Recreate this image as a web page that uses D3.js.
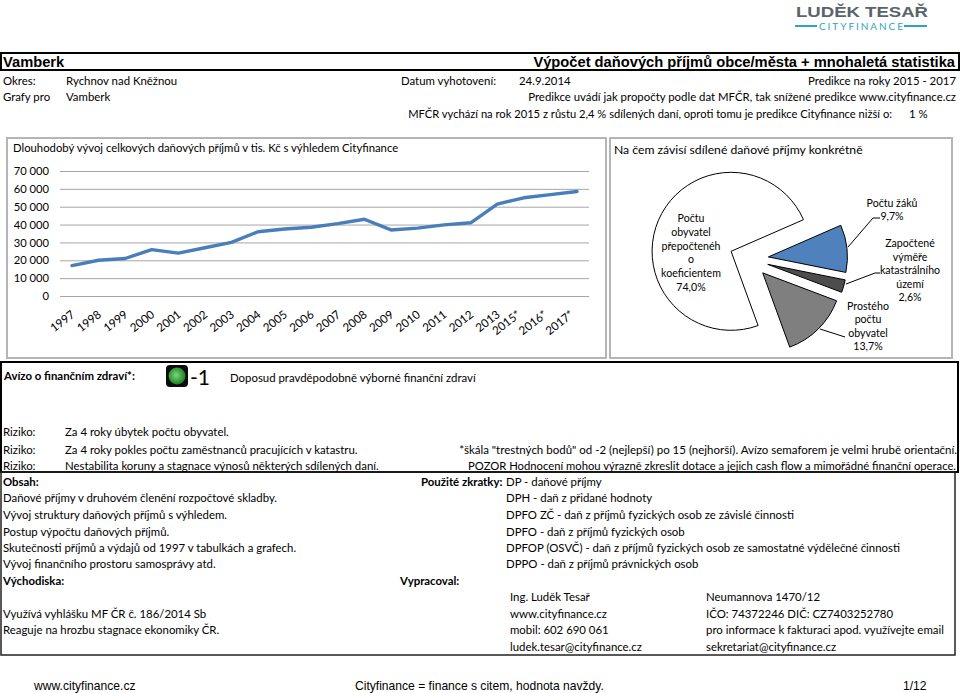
<!DOCTYPE html>
<html lang="cs">
<head>
<meta charset="utf-8">
<title>Vamberk</title>
<script src="https://cdn.jsdelivr.net/npm/d3@7/dist/d3.min.js"></script>
<style>
  html, body { margin: 0; padding: 0; background: #fff; }
  svg { display: block; }
  text { font-family: Lato, "Open Sans", sans-serif; font-size: 11.4px; fill: #000; }
  .arial { font-family: "Liberation Sans", Arial, sans-serif; }
  .gridline { stroke: #a6a6a6; stroke-width: 1; }
</style>
</head>
<body>
<svg id="page" width="960" height="693"></svg>
<script>
// line chart
var years = ["1997","1998","1999","2000","2001","2002","2003","2004","2005","2006","2007","2008","2009","2010","2011","2012","2013","2015*","2016*","2017*"];
var taxIncome = [17000,20000,21000,26000,24000,27000,30000,36000,37500,38500,40500,43000,37000,38000,39800,41000,51500,55000,56800,58500];
var yTicks = [0,10000,20000,30000,40000,50000,60000,70000];

// pie chart
var pieNames = [["Počtu","obyvatel","přepočtenéh","o","koeficientem"],["Počtu žáků"],["Započtené","výměře","katastrálního","území"],["Prostého","počtu","obyvatel"]];
var pieShares = [74.0,9.7,2.6,13.7];
var pieLabels = ["74,0%","9,7%","2,6%","13,7%"];
var pieColors = ["#ffffff","#4f81bd","#4d4d4d","#7f7f7f"];

// texts of the page, [x, y, text, anchor, bold, size]
var topRows = [
  [3,85,"Okres:"],[66,85,"Rychnov nad Kněžnou"],[401,85,"Datum vyhotovení:"],[519,85,"24.9.2014"],[956,85,"Predikce na roky 2015 - 2017","end"],
  [3,101,"Grafy pro"],[66,101,"Vamberk"],[956,101,"Predikce uvádí jak propočty podle dat MFČR, tak snížené predikce www.cityfinance.cz","end"],
  [892,118,"MFČR vychází na rok 2015 z růstu 2,4 % sdílených daní, oproti tomu je predikce Cityfinance nižší o:","end",false,11.17],[909,118,"1 %"]
];
var lowerRows = [
  [4,380,"Avízo o finančním zdraví*:",null,true],[230,382,"Doposud pravděpodobně výborné finanční zdraví"],
  [3,436,"Riziko:"],[65,436,"Za 4 roky úbytek počtu obyvatel."],
  [3,454,"Riziko:"],[65,454,"Za 4 roky pokles počtu zaměstnanců pracujících v katastru."],
  [957,454,"*škála \"trestných bodů\" od -2 (nejlepší) po 15 (nejhorší). Avízo semaforem je velmi hrubě orientační.","end",false,11.5],
  [956,470,"POZOR Hodnocení mohou výrazně zkreslit dotace a jejich cash flow a mimořádné finanční operace.","end",false,11.25],
  [3,470,"Riziko:"],[65,470,"Nestabilita koruny a stagnace výnosů některých sdílených daní."],
  [3,486,"Obsah:",null,true],[421,486,"Použité zkratky:",null,true],[506,486,"DP - daňové příjmy"],
  [3,502,"Daňové příjmy v druhovém členění rozpočtové skladby."],[506,502,"DPH - daň z přidané hodnoty"],
  [3,519,"Vývoj struktury daňových příjmů s výhledem."],[506,519,"DPFO ZČ - daň z příjmů fyzických osob ze závislé činnosti"],
  [3,536,"Postup výpočtu daňových příjmů."],[506,536,"DPFO - daň z příjmů fyzických osob"],
  [3,552,"Skutečnosti příjmů a výdajů od 1997 v tabulkách a grafech."],[506,552,"DPFOP (OSVČ) - daň z příjmů fyzických osob ze samostatné výdělečné činnosti"],
  [3,568,"Vývoj finančního prostoru samosprávy atd."],[506,568,"DPPO - daň z příjmů právnických osob"],
  [3,585,"Východiska:",null,true],[400,585,"Vypracoval:",null,true],
  [510,601,"Ing. Luděk Tesař"],[706,601,"Neumannova 1470/12"],
  [3,618,"Využívá vyhlášku MF ČR č. 186/2014 Sb"],[510,618,"www.cityfinance.cz"],[706,618,"IČO: 74372246  DIČ: CZ7403252780"],
  [3,634,"Reaguje na hrozbu stagnace ekonomiky ČR."],[510,634,"mobil: 602 690 061"],[706,634,"pro informace k fakturaci apod. využívejte email"],
  [510,651,"ludek.tesar@cityfinance.cz"],[706,651,"sekretariat@cityfinance.cz"]
];

var svg = d3.select("#page");

function putTexts(rows) {
  svg.append("g").selectAll("text").data(rows).join("text")
    .attr("x", function(d) { return d[0]; })
    .attr("y", function(d) { return d[1]; })
    .attr("text-anchor", function(d) { return d[3] || "start"; })
    .style("font-weight", function(d) { return d[4] ? "700" : null; })
    .style("font-size", function(d) { return d[5] ? d[5] + "px" : null; })
    .text(function(d) { return d[2]; });
}

// logo
var logo = svg.append("g");
logo.append("text").attr("class", "arial").attr("x", 796).attr("y", 17)
  .attr("textLength", 132).attr("lengthAdjust", "spacingAndGlyphs")
  .style("font-size", "15.5px").style("font-weight", "700").style("fill", "#59636b").text("LUDĚK TESAŘ");
logo.append("text").attr("x", 819).attr("y", 30)
  .attr("textLength", 84).attr("lengthAdjust", "spacing")
  .style("font-size", "10px").style("fill", "#2fa6c0").text("CITYFINANCE");
logo.selectAll("rect").data([[795,22],[904,23]]).join("rect")
  .attr("x", function(d) { return d[0]; }).attr("y", 25).attr("width", function(d) { return d[1]; }).attr("height", 2).attr("fill", "#2fa6c0");

// header band
svg.append("rect").attr("x", 1).attr("y", 53).attr("width", 958).attr("height", 17).attr("fill", "none").attr("stroke", "#000").attr("stroke-width", 2);
svg.append("text").attr("class", "arial").attr("x", 3).attr("y", 67).style("font-size", "14.7px").style("font-weight", "700").text("Vamberk");
svg.append("text").attr("class", "arial").attr("x", 955).attr("y", 67).attr("text-anchor", "end").style("font-size", "14.7px").style("font-weight", "700").text("Výpočet daňových příjmů obce/města + mnohaletá statistika");
putTexts(topRows);

// chart panels
svg.selectAll("rect.panel").data([[7,138,599,220],[610,138,342,220]]).join("rect")
  .attr("class", "panel")
  .attr("x", function(d) { return d[0]; }).attr("y", function(d) { return d[1]; })
  .attr("width", function(d) { return d[2]; }).attr("height", function(d) { return d[3]; })
  .attr("fill", "#fff").attr("stroke", "#b5b5b5").attr("stroke-width", 2);

svg.append("text").attr("x", 13).attr("y", 152).style("font-size", "11.3px").text("Dlouhodobý vývoj celkových daňových příjmů v tis. Kč s výhledem Cityfinance");
svg.append("text").attr("x", 614).attr("y", 154).style("font-size", "12.2px").text("Na čem závisí sdílené daňové příjmy konkrétně");

// line chart scales
var x = d3.scalePoint().domain(years).range([72, 577]);
var y = d3.scaleLinear().domain([0, 70000]).range([296, 171]);

svg.append("g").selectAll("line").data(yTicks).join("line")
  .attr("class", "gridline")
  .attr("x1", 60).attr("x2", 589)
  .attr("y1", function(d) { return y(d) + 0.5; }).attr("y2", function(d) { return y(d) + 0.5; });

var yAxis = d3.axisLeft(y).tickValues(yTicks).tickSize(0).tickPadding(0)
  .tickFormat(function(d) { return d3.format(",")(d).replace(/,/g, " "); });
var yG = svg.append("g").attr("transform", "translate(49,0)").call(yAxis);
yG.select(".domain").remove();
yG.selectAll("text").style("font-size", "11.2px").style("font-family", "Lato, sans-serif");

var xAxis = d3.axisBottom(x).tickSize(0).tickPadding(0);
var xG = svg.append("g").attr("transform", "translate(0,296)").call(xAxis);
xG.select(".domain").remove();
xG.selectAll("text")
  .attr("text-anchor", "end")
  .attr("dy", 0).attr("y", 0)
  .attr("transform", function(d) {
    return "translate(" + (d.slice(-1) == "*" ? -3 : 3) + ",20) rotate(-38)";
  })
  .style("font-size", "11.6px").style("font-family", "Lato, sans-serif");

svg.append("path").datum(taxIncome)
  .attr("fill", "none").attr("stroke", "#4a7ebb").attr("stroke-width", 3.4)
  .attr("stroke-linejoin", "round").attr("stroke-linecap", "round")
  .attr("d", d3.line().x(function(d, i) { return x(years[i]); }).y(function(d) { return y(d); }));

// pie chart
var pieX = 749, pieY = 259, pieR = 79, pieGap = 19.5;
var pie = d3.pie().sort(null).startAngle(160 * Math.PI / 180).endAngle((160 + 360) * Math.PI / 180);
var arc = d3.arc().innerRadius(0).outerRadius(pieR);
var slices = pie(pieShares);
svg.append("g").attr("transform", "translate(" + pieX + "," + pieY + ")")
  .selectAll("path").data(slices).join("path")
  .attr("d", arc)
  .attr("transform", function(d) {
    var mid = (d.startAngle + d.endAngle) / 2;
    return "translate(" + (Math.sin(mid) * pieGap) + "," + (-Math.cos(mid) * pieGap) + ")";
  })
  .attr("fill", function(d, i) { return pieColors[i]; })
  .attr("stroke", "#000").attr("stroke-width", 1);

// pie labels, each name line then the share
var pieLabelPos = [[691,218,13.8],[892,203,13],[910,243,13.5],[868,306,13.3]];
var labelG = svg.append("g");
pieNames.forEach(function(lines, i) {
  var rows = lines.concat([pieLabels[i]]);
  labelG.selectAll("text.l" + i).data(rows).join("text")
    .attr("class", "l" + i)
    .attr("x", pieLabelPos[i][0])
    .attr("y", function(d, j) { return pieLabelPos[i][1] + 4 + j * pieLabelPos[i][2]; })
    .attr("text-anchor", "middle")
    .style("font-size", "10.6px")
    .text(function(d) { return d; });
});
// leader lines
var leaders = d3.line();
svg.append("g").selectAll("path").data([
  [[848,247],[873,218],[880,218]],
  [[846,284],[875,273],[880,273]],
  [[820,329],[845,337]]
]).join("path").attr("d", leaders).attr("fill", "none").attr("stroke", "#000").attr("stroke-width", 1);

// lower block frames
svg.append("rect").attr("x", 1).attr("y", 362).attr("width", 957).attr("height", 110).attr("fill", "none").attr("stroke", "#000").attr("stroke-width", 2);
svg.append("rect").attr("x", 1).attr("y", 472).attr("width", 954).attr("height", 183).attr("fill", "none").attr("stroke", "#222").attr("stroke-width", 1.5);

// traffic light
var lamp = svg.append("defs").append("radialGradient").attr("id", "lamp").attr("cx", "45%").attr("cy", "45%");
lamp.append("stop").attr("offset", "0%").attr("stop-color", "#7fd67a");
lamp.append("stop").attr("offset", "100%").attr("stop-color", "#1f8a2a");
svg.append("rect").attr("x", 166).attr("y", 365).attr("width", 22).attr("height", 22).attr("rx", 4).attr("fill", "#0c0c0c");
svg.append("circle").attr("cx", 177).attr("cy", 376).attr("r", 8.5).attr("fill", "url(#lamp)");
svg.append("text").attr("x", 190).attr("y", 385).style("font-size", "21px").text("-1");

putTexts(lowerRows);

// footer
svg.append("g").selectAll("text").data([[34,"www.cityfinance.cz"],[355,"Cityfinance = finance s citem, hodnota navždy."],[903,"1/12"]]).join("text")
  .attr("class", "arial")
  .attr("x", function(d) { return d[0]; }).attr("y", 690)
  .style("font-size", "12.1px")
  .text(function(d) { return d[1]; });
</script>
</body>
</html>
